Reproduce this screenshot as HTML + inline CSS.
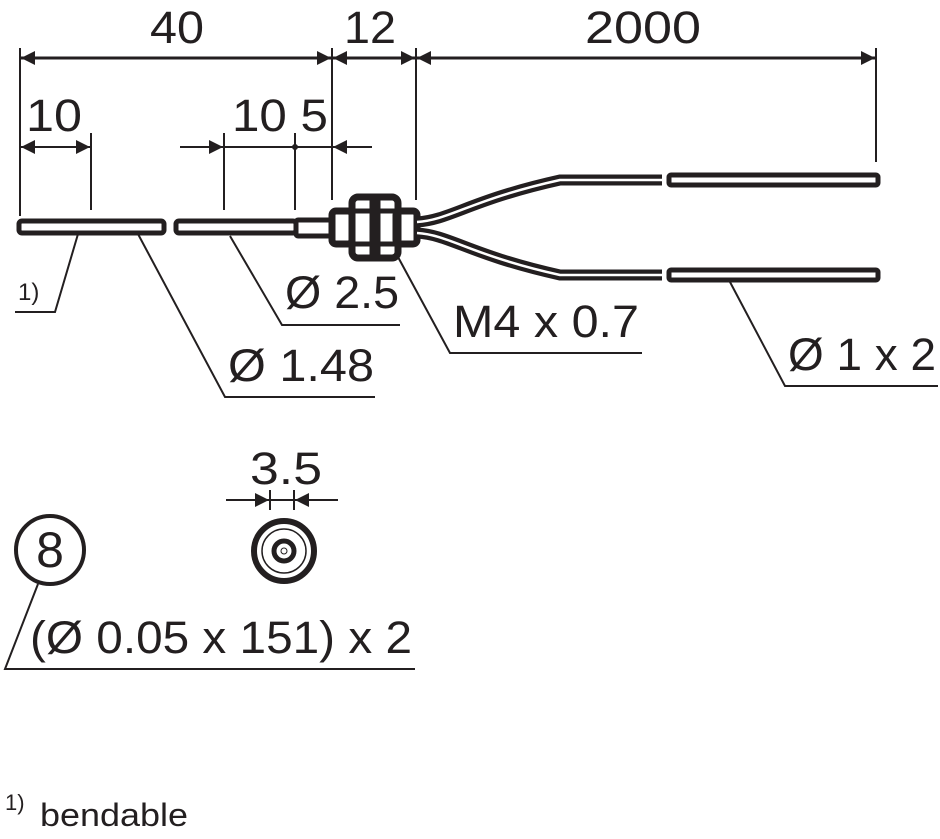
<!DOCTYPE html>
<html><head><meta charset="utf-8"><style>
html,body{margin:0;padding:0;background:#fff;}
svg{display:block;}
text{font-family:"Liberation Sans",sans-serif;fill:#231f20;}
</style></head><body>
<svg width="940" height="839" viewBox="0 0 940 839" xmlns="http://www.w3.org/2000/svg">
<defs>
<marker id="a" viewBox="0 0 10 10" refX="10" refY="5" markerWidth="26" markerHeight="14" markerUnits="userSpaceOnUse" orient="auto-start-reverse"><path d="M0,0L10,5L0,10z" fill="#231f20"/></marker>
</defs>
<g stroke="#231f20" fill="none" stroke-width="2">
<line x1="20" y1="48" x2="20" y2="216"/>
<line x1="332" y1="48" x2="332" y2="200"/>
<line x1="416" y1="48" x2="416" y2="200"/>
<line x1="876" y1="48" x2="876" y2="162"/>
<line x1="21" y1="58" x2="331" y2="58" stroke-width="3" marker-start="url(#a)" marker-end="url(#a)"/>
<line x1="333" y1="58" x2="415" y2="58" stroke-width="3" marker-start="url(#a)" marker-end="url(#a)"/>
<line x1="417" y1="58" x2="875" y2="58" stroke-width="3" marker-start="url(#a)" marker-end="url(#a)"/>
<line x1="91" y1="133" x2="91" y2="210"/>
<line x1="21" y1="147" x2="90" y2="147" marker-start="url(#a)" marker-end="url(#a)"/>
<line x1="224" y1="133" x2="224" y2="210"/>
<line x1="295" y1="133" x2="295" y2="210"/>
<line x1="180" y1="147" x2="223" y2="147" marker-end="url(#a)"/>
<line x1="224" y1="147" x2="332" y2="147"/>
<line x1="372" y1="147" x2="333" y2="147" marker-end="url(#a)"/>
<circle cx="295" cy="147" r="2" fill="#231f20"/>
<rect x="19" y="221" width="145" height="12" rx="3" stroke-width="5"/>
<rect x="176" y="221" width="120" height="12" rx="3" stroke-width="5"/>
<rect x="296" y="220" width="36" height="16" rx="2" stroke-width="5"/>
<rect x="332" y="211" width="20" height="33" rx="4" stroke-width="7"/>
<rect x="396" y="211" width="21" height="33" rx="4" stroke-width="7"/>
<rect x="352" y="197" width="46" height="61" rx="6" stroke-width="7"/>
<line x1="375" y1="195" x2="375" y2="260" stroke-width="11"/>
<line x1="352" y1="211" x2="398" y2="211" stroke-width="5"/>
<line x1="352" y1="244" x2="398" y2="244" stroke-width="5"/>
<path d="M417,222 C450,220 470,200 560,180 L662,180" stroke-width="11"/>
<path d="M417,222 C450,220 470,200 560,180 L662,180" stroke="#fff" stroke-width="2.5"/>
<path d="M417,233 C450,235 470,255 560,275 L662,275" stroke-width="11"/>
<path d="M417,233 C450,235 470,255 560,275 L662,275" stroke="#fff" stroke-width="2.5"/>
<rect x="669" y="175" width="209" height="10" rx="2" stroke-width="5"/>
<rect x="669" y="270" width="209" height="10" rx="2" stroke-width="5"/>
<polyline points="78,234 55,312 15,312"/>
<polyline points="138,234 225,397 375,397"/>
<polyline points="230,236 282,325 400,325"/>
<polyline points="398,257 450,353 642,353"/>
<polyline points="730,282 785,386 938,386"/>
<circle cx="50" cy="550" r="34" stroke-width="4"/>
<polyline points="38,584 5,669 415,669"/>
<circle cx="284" cy="551" r="30" stroke-width="6"/>
<circle cx="284" cy="551" r="22" stroke-width="1.5"/>
<circle cx="284" cy="551" r="10" stroke-width="5"/>
<circle cx="284" cy="551" r="3" stroke-width="1"/>
<line x1="270" y1="490" x2="270" y2="510"/>
<line x1="294" y1="490" x2="294" y2="510"/>
<line x1="226" y1="500" x2="269" y2="500" marker-end="url(#a)"/>
<line x1="270" y1="500" x2="294" y2="500"/>
<line x1="338" y1="500" x2="295" y2="500" marker-end="url(#a)"/>
</g>
<g font-size="45">
<text x="150" y="43" textLength="54" lengthAdjust="spacingAndGlyphs">40</text>
<text x="344" y="43" textLength="52" lengthAdjust="spacingAndGlyphs">12</text>
<text x="585" y="43" textLength="116" lengthAdjust="spacingAndGlyphs">2000</text>
<text x="26" y="131" textLength="56" lengthAdjust="spacingAndGlyphs">10</text>
<text x="232" y="131" textLength="96" lengthAdjust="spacingAndGlyphs">10 5</text>
<text x="228" y="381" textLength="146" lengthAdjust="spacingAndGlyphs">Ø 1.48</text>
<text x="285" y="308" textLength="114" lengthAdjust="spacingAndGlyphs">Ø 2.5</text>
<text x="453" y="337" textLength="186" lengthAdjust="spacingAndGlyphs">M4 x 0.7</text>
<text x="788" y="370" textLength="148" lengthAdjust="spacingAndGlyphs">Ø 1 x 2</text>
<text x="30" y="653" textLength="382" lengthAdjust="spacingAndGlyphs">(Ø 0.05 x 151) x 2</text>
<text x="250" y="484" textLength="72" lengthAdjust="spacingAndGlyphs">3.5</text>
<text x="50" y="567" text-anchor="middle" font-size="50">8</text>
</g>
<text x="18" y="300" font-size="24">1)</text>
<text x="5" y="810" font-size="22">1)</text>
<text x="40" y="826" font-size="32" textLength="148" lengthAdjust="spacingAndGlyphs">bendable</text>
</svg>
</body></html>
